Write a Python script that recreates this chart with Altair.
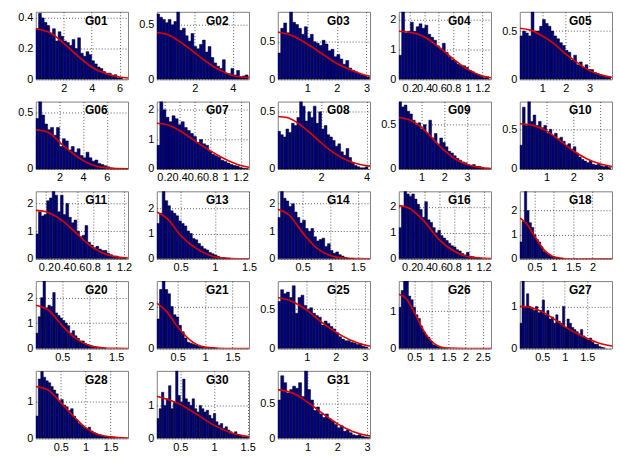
import altair as alt
import pandas as pd

panel_names = ["G01", "G02", "G03", "G04", "G05",
               "G06", "G07", "G08", "G09", "G10",
               "G11", "G13", "G14", "G16", "G18",
               "G20", "G21", "G25", "G26", "G27",
               "G28", "G30", "G31"]

x_min = [0, 0, 0, 0.05, 0.05,
         0, 0.1, 0.1, 0, 0,
         0.07, 0.15, 0.05, 0.06, 0.12,
         0.01, 0.12, 0, 0.05, 0,
         0, 0.15, 0]
x_max = [6.6, 4.85, 3.12, 1.32, 3.95,
         7.8, 1.31, 4.15, 4.05, 3.45,
         1.25, 1.5, 1.72, 1.3, 2.5,
         1.72, 1.8, 3.18, 2.74, 2.05,
         1.85, 1.52, 3.1]
y_max = [0.44, 0.62, 0.9, 2.25, 0.7,
         0.6, 2.28, 0.59, 0.76, 0.85,
         2.44, 2.67, 2.45, 2.6, 2.8,
         2.65, 3.2, 0.86, 1.8, 1.6,
         1.82, 2.05, 0.97]
bin_width = [0.2, 0.15, 0.1, 0.04, 0.12,
             0.25, 0.04, 0.12, 0.12, 0.1,
             0.035, 0.04, 0.05, 0.035, 0.06,
             0.045, 0.05, 0.1, 0.07, 0.05,
             0.05, 0.035, 0.1]
fine = [0.2, 0.4, 0.6, 0.8, 1, 1.2]
x_ticks = [[2, 4, 6], [2, 4], [1, 2, 3], fine, [1, 2, 3],
           [2, 4, 6], fine, [2, 4], [1, 2, 3], [1, 2, 3],
           fine, [0.5, 1, 1.5], [0.5, 1, 1.5], fine, [0.5, 1, 1.5, 2],
           [0.5, 1, 1.5], [0.5, 1, 1.5], [1, 2, 3], [0.5, 1, 1.5, 2, 2.5], [0.5, 1, 1.5],
           [0.5, 1, 1.5], [0.5, 1, 1.5], [1, 2, 3]]
y_ticks = [[0, 0.2, 0.4], [0, 0.5], [0, 0.5], [0, 1, 2], [0, 0.5],
           [0, 0.5], [0, 1, 2], [0, 0.5], [0, 0.5], [0, 0.5],
           [0, 1, 2], [0, 1, 2], [0, 1, 2], [0, 1, 2], [0, 1, 2],
           [0, 1, 2], [0, 2], [0, 0.5], [0, 1], [0, 1],
           [0, 1], [0, 1], [0, 0.5]]

# histogram heights
g01 = [0.33, 0.43, 0.40, 0.37, 0.35, 0.30, 0.33, 0.25, 0.31, 0.28, 0.25, 0.24, 0.22, 0.26, 0.20, 0.27,
       0.17, 0.15, 0.18, 0.16, 0.12, 0.10, 0.08, 0.07, 0.05, 0.04, 0.04, 0.02, 0.03, 0.01, 0.01]
g02 = [0.60, 0.57, 0.55, 0.52, 0.55, 0.50, 0.53, 0.62, 0.45, 0.47, 0.40, 0.35, 0.42, 0.30, 0.28, 0.32,
       0.36, 0.25, 0.30, 0.20, 0.15, 0.12, 0.10, 0.18, 0.05, 0.05, 0.10, 0.04, 0.08, 0.02, 0.03, 0.04]
g03 = [0.35, 0.68, 0.75, 0.62, 0.90, 0.76, 0.73, 0.68, 0.60, 0.70, 0.55, 0.60, 0.50, 0.48, 0.45, 0.52,
       0.47, 0.38, 0.40, 0.30, 0.33, 0.27, 0.20, 0.25, 0.15, 0.12, 0.10, 0.08, 0.06, 0.05, 0.03]
g04 = [0.80, 2.25, 1.55, 1.60, 1.90, 1.60, 1.75, 1.85, 1.70, 1.80, 1.50, 1.40, 1.30, 1.10, 1.00, 1.20,
       0.90, 0.75, 0.65, 0.60, 0.50, 0.45, 0.45, 0.40, 0.30, 0.25, 0.20, 0.15, 0.10, 0.05, 0.08]
g05 = [0.45, 0.50, 0.48, 0.45, 0.70, 0.50, 0.50, 0.55, 0.62, 0.58, 0.55, 0.50, 0.45, 0.42, 0.38, 0.35,
       0.30, 0.28, 0.20, 0.25, 0.15, 0.18, 0.12, 0.15, 0.10, 0.10, 0.07, 0.06, 0.05, 0.04, 0.03, 0.02]
g06 = [0.45, 0.60, 0.48, 0.40, 0.35, 0.37, 0.30, 0.37, 0.20, 0.27, 0.25, 0.17, 0.20, 0.15, 0.18, 0.12,
       0.10, 0.15, 0.10, 0.07, 0.08, 0.05, 0.04, 0.03, 0.02, 0.01]
g07 = [0.80, 2.28, 2.00, 1.75, 1.60, 1.80, 1.70, 1.50, 1.60, 1.40, 1.30, 1.20, 1.10, 0.90, 1.00, 0.85,
       0.80, 0.60, 0.50, 0.45, 0.40, 0.30, 0.25, 0.20, 0.15, 0.12, 0.10, 0.05, 0.03, 0.02]
g08 = [0.33, 0.30, 0.28, 0.35, 0.32, 0.40, 0.38, 0.45, 0.59, 0.55, 0.42, 0.50, 0.45, 0.55, 0.40, 0.50,
       0.35, 0.38, 0.30, 0.28, 0.25, 0.20, 0.22, 0.15, 0.12, 0.18, 0.10, 0.05, 0.03, 0.02, 0.01, 0.01, 0.02]
g09 = [0.76, 0.70, 0.72, 0.65, 0.62, 0.55, 0.50, 0.52, 0.45, 0.50, 0.40, 0.55, 0.35, 0.40, 0.28, 0.35,
       0.30, 0.25, 0.20, 0.18, 0.15, 0.12, 0.10, 0.08, 0.07, 0.05, 0.04, 0.05, 0.03, 0.03, 0.02, 0.01, 0.01]
g10 = [0.30, 0.78, 0.55, 0.85, 0.60, 0.68, 0.55, 0.60, 0.52, 0.55, 0.45, 0.50, 0.42, 0.45, 0.38, 0.40,
       0.35, 0.30, 0.32, 0.25, 0.28, 0.20, 0.15, 0.12, 0.10, 0.08, 0.10, 0.06, 0.05, 0.06, 0.04, 0.03, 0.04, 0.02]
g11 = [0.90, 1.70, 1.55, 1.60, 2.10, 2.20, 2.44, 2.30, 1.70, 2.30, 1.60, 2.00, 1.50, 1.30, 1.40, 1.00,
       0.80, 0.85, 1.20, 0.60, 0.50, 0.40, 0.45, 0.35, 0.30, 0.30, 0.20, 0.15, 0.10, 0.10, 0.05, 0.05, 0.03]
g13 = [1.40, 1.80, 2.67, 2.30, 2.10, 1.90, 1.80, 1.70, 1.50, 1.40, 1.30, 1.10, 1.00, 0.80, 0.75, 0.60,
       0.50, 0.40, 0.35, 0.25, 0.20, 0.15, 0.10, 0.05, 0.05, 0.03, 0.02]
g14 = [1.50, 2.45, 2.20, 2.10, 1.90, 2.00, 1.70, 1.50, 1.30, 1.40, 1.10, 1.00, 1.10, 0.80, 0.65, 0.70,
       0.75, 0.45, 0.55, 0.30, 0.20, 0.25, 0.15, 0.10, 0.05, 0.03, 0.02, 0.01]
g16 = [1.20, 2.00, 2.60, 2.50, 2.40, 2.50, 2.30, 2.10, 1.90, 1.60, 2.20, 1.50, 1.40, 1.20, 1.00, 1.10,
       0.90, 0.80, 0.70, 0.60, 0.50, 0.45, 0.35, 0.30, 0.20, 0.15, 0.25, 0.10, 0.08, 0.05, 0.03, 0.02]
g18 = [0.70, 1.55, 2.80, 2.00, 1.50, 1.30, 1.00, 0.80, 0.70, 0.50, 0.30, 0.25, 0.20, 0.10, 0.08, 0.05,
       0.03, 0.02, 0.01]
g20 = [0.60, 1.25, 2.00, 2.65, 1.60, 1.70, 1.65, 2.20, 1.40, 1.30, 1.20, 1.10, 1.00, 0.90, 0.60, 0.70,
       0.50, 0.40, 0.30, 0.30, 0.20, 0.15, 0.12, 0.10, 0.08, 0.05, 0.05, 0.03, 0.02]
g21 = [1.40, 2.80, 3.20, 2.80, 2.60, 2.00, 1.60, 1.50, 1.10, 0.80, 0.50, 0.30, 0.25, 0.20, 0.15, 0.10,
       0.08, 0.05, 0.03, 0.02, 0.05, 0.01]
g25 = [0.60, 0.75, 0.70, 0.72, 0.65, 0.80, 0.45, 0.65, 0.68, 0.55, 0.50, 0.52, 0.45, 0.42, 0.40, 0.30,
       0.35, 0.32, 0.28, 0.25, 0.20, 0.15, 0.12, 0.10, 0.10, 0.08, 0.07, 0.05, 0.06, 0.03, 0.02]
g26 = [1.10, 1.55, 1.80, 1.80, 1.40, 1.30, 1.10, 0.90, 0.80, 0.60, 0.45, 0.35, 0.30, 0.20, 0.10, 0.08,
       0.05, 0.03, 0.02, 0.01]
g27 = [0.60, 1.60, 1.00, 1.30, 1.00, 0.95, 0.90, 1.00, 0.85, 0.90, 1.15, 0.80, 0.90, 0.70, 0.75, 0.60,
       0.80, 0.65, 0.60, 1.00, 0.50, 0.70, 0.60, 0.50, 0.45, 0.40, 0.35, 0.45, 0.30, 0.25, 0.20, 0.25,
       0.15, 0.10, 0.10, 0.05, 0.03, 0.02]
g28 = [0.60, 1.60, 1.80, 1.65, 1.55, 1.50, 1.40, 1.30, 1.20, 1.00, 1.05, 0.90, 0.85, 0.75, 0.80, 0.60,
       0.50, 0.40, 0.35, 0.30, 0.25, 0.30, 0.20, 0.15, 0.12, 0.10, 0.08, 0.05, 0.04, 0.03, 0.02, 0.01]
g30 = [0.60, 0.90, 1.40, 1.00, 1.20, 1.60, 0.90, 1.10, 2.05, 1.30, 1.10, 1.80, 1.20, 1.10, 1.00, 1.20,
       0.90, 0.80, 1.00, 0.90, 0.80, 0.85, 0.70, 0.60, 0.75, 0.50, 0.40, 0.45, 0.30, 0.35, 0.25, 0.20,
       0.15, 0.20, 0.10, 0.10, 0.05, 0.05, 0.03]
g31 = [0.55, 0.90, 0.80, 0.65, 0.70, 0.75, 0.72, 0.80, 0.60, 0.97, 0.70, 0.55, 0.40, 0.45, 0.35, 0.30,
       0.35, 0.28, 0.25, 0.20, 0.15, 0.18, 0.10, 0.12, 0.08, 0.05, 0.04, 0.05, 0.03, 0.02, 0.01]

# fitted curves, points (x, density)
g01_fit = [(0, 0.33), (1, 0.305), (2, 0.235), (3, 0.153), (4, 0.08), (5, 0.037), (6, 0.015), (6.6, 0.008)]
g02_fit = [(0, 0.43), (0.5, 0.415), (1, 0.37), (1.5, 0.31), (2, 0.245), (2.5, 0.175), (3, 0.115),
           (3.5, 0.07), (4, 0.035), (4.85, 0.015)]
g03_fit = [(0, 0.63), (0.5, 0.58), (1, 0.47), (1.5, 0.34), (2, 0.21), (2.5, 0.12), (3, 0.05), (3.12, 0.04)]
g04_fit = [(0.05, 1.6), (0.2, 1.57), (0.4, 1.42), (0.6, 1.08), (0.8, 0.68), (1.0, 0.33), (1.2, 0.11), (1.32, 0.05)]
g05_fit = [(0.05, 0.53), (0.5, 0.51), (1, 0.45), (1.5, 0.37), (2, 0.26), (2.5, 0.17), (3, 0.09),
           (3.5, 0.045), (3.95, 0.02)]
g06_fit = [(0, 0.35), (1, 0.33), (2, 0.24), (3, 0.15), (4, 0.075), (5, 0.03), (6, 0.01), (7, 0.004), (7.8, 0.002)]
g07_fit = [(0.1, 1.55), (0.2, 1.52), (0.4, 1.3), (0.6, 0.95), (0.8, 0.62), (1.0, 0.33), (1.2, 0.12), (1.31, 0.06)]
g08_fit = [(0.1, 0.46), (0.5, 0.45), (1, 0.4), (1.5, 0.32), (2, 0.23), (2.5, 0.15), (3, 0.09),
           (3.5, 0.05), (4.15, 0.025)]
g09_fit = [(0, 0.58), (0.5, 0.55), (1, 0.47), (1.5, 0.34), (2, 0.21), (2.5, 0.11), (3, 0.05),
           (3.5, 0.02), (4.05, 0.005)]
g10_fit = [(0, 0.57), (0.5, 0.55), (1, 0.48), (1.5, 0.36), (2, 0.23), (2.5, 0.13), (3, 0.065), (3.45, 0.03)]
g11_fit = [(0.07, 1.75), (0.2, 1.7), (0.4, 1.4), (0.6, 0.9), (0.8, 0.4), (1.0, 0.13), (1.25, 0.03)]
g13_fit = [(0.15, 1.85), (0.3, 1.6), (0.5, 0.92), (0.75, 0.37), (1.0, 0.08), (1.25, 0.01), (1.5, 0.0)]
g14_fit = [(0.05, 1.8), (0.25, 1.6), (0.5, 0.95), (0.75, 0.4), (1.0, 0.12), (1.25, 0.03), (1.5, 0.005), (1.72, 0.0)]
g16_fit = [(0.06, 2.05), (0.2, 1.95), (0.4, 1.45), (0.6, 0.75), (0.8, 0.3), (1.0, 0.08), (1.3, 0.01)]
g18_fit = [(0.12, 1.7), (0.3, 1.45), (0.5, 0.94), (0.75, 0.36), (1.0, 0.08), (1.25, 0.01), (1.5, 0.0), (2.5, 0.0)]
g20_fit = [(0.01, 1.7), (0.25, 1.5), (0.5, 0.9), (0.75, 0.4), (1.0, 0.12), (1.25, 0.03), (1.5, 0.005), (1.72, 0.0)]
g21_fit = [(0.12, 2.15), (0.3, 1.75), (0.5, 1.03), (0.75, 0.35), (1.0, 0.07), (1.25, 0.01), (1.5, 0.0), (1.8, 0.0)]
g25_fit = [(0, 0.65), (0.5, 0.6), (1, 0.49), (1.5, 0.34), (2, 0.21), (2.5, 0.11), (3, 0.045), (3.18, 0.03)]
g26_fit = [(0.05, 1.45), (0.25, 1.35), (0.5, 0.98), (0.75, 0.52), (1.0, 0.2), (1.25, 0.05), (1.5, 0.01),
           (2.0, 0.0), (2.74, 0.0)]
g27_fit = [(0, 1.0), (0.25, 0.97), (0.5, 0.87), (0.75, 0.71), (1.0, 0.52), (1.25, 0.37), (1.5, 0.24),
           (1.75, 0.13), (2.05, 0.06)]
g28_fit = [(0, 1.4), (0.25, 1.3), (0.5, 0.97), (0.75, 0.6), (1.0, 0.29), (1.25, 0.1), (1.5, 0.04), (1.85, 0.005)]
g30_fit = [(0.15, 1.28), (0.5, 1.03), (0.75, 0.72), (1.0, 0.4), (1.25, 0.17), (1.52, 0.05)]
g31_fit = [(0, 0.7), (0.5, 0.65), (1, 0.52), (1.5, 0.36), (2, 0.21), (2.5, 0.1), (3, 0.04), (3.1, 0.035)]

bars = [g01, g02, g03, g04, g05, g06, g07, g08, g09, g10, g11, g13, g14, g16, g18,
        g20, g21, g25, g26, g27, g28, g30, g31]
fits = [g01_fit, g02_fit, g03_fit, g04_fit, g05_fit, g06_fit, g07_fit, g08_fit, g09_fit, g10_fit,
        g11_fit, g13_fit, g14_fit, g16_fit, g18_fit, g20_fit, g21_fit, g25_fit, g26_fit, g27_fit,
        g28_fit, g30_fit, g31_fit]

W, H = 93, 68
FONT = "Liberation Sans"

panels = []
for i, name in enumerate(panel_names):
    hist = pd.DataFrame({
        "x": [x_min[i] + k * bin_width[i] for k in range(len(bars[i]))],
        "h": bars[i],
    })
    hist["x2"] = hist["x"] + bin_width[i]
    fit = pd.DataFrame(fits[i], columns=["fx", "fy"])

    xs = alt.Scale(domain=[x_min[i], x_max[i]], nice=False, zero=False)
    ys = alt.Scale(domain=[0, y_max[i]], nice=False, zero=True)
    xa = alt.Axis(values=x_ticks[i], title=None, grid=True, labelOverlap=False,
                  labelFlush=False, labelBound=False, format="~g")
    ya = alt.Axis(values=y_ticks[i], title=None, grid=True, labelOverlap=False,
                  labelFlush=False, labelBound=False, format="~g")

    hb = alt.Chart(hist).mark_bar(
        clip=True, fill="#000085", stroke="#000000", strokeWidth=0.5
    ).encode(
        x=alt.X("x:Q", scale=xs, axis=xa),
        x2="x2:Q",
        y=alt.Y("h:Q", scale=ys, axis=ya),
        y2=alt.datum(0),
    )
    ln = alt.Chart(fit).mark_line(
        clip=True, color="#e00000", strokeWidth=1.6, interpolate="monotone"
    ).encode(
        x=alt.X("fx:Q", scale=xs, axis=xa),
        y=alt.Y("fy:Q", scale=ys, axis=ya),
    )
    tx = alt.Chart(pd.DataFrame({"t": [name]})).mark_text(
        font=FONT, fontSize=12, fontWeight="bold", color="black", align="center", baseline="middle"
    ).encode(x=alt.value(61), y=alt.value(9), text="t:N")

    panels.append(alt.layer(hb, ln, tx).properties(width=W, height=H))

chart = alt.concat(
    *panels, columns=5, spacing=alt.RowColnumber(row=22.5, column=29), bounds="flush"
).properties(
    padding={"left": 9, "top": 1, "right": 0, "bottom": 0},
    background="white",
).configure_view(
    stroke="#808080", strokeWidth=1
).configure_axis(
    domain=False, ticks=False, labelFont=FONT, labelFontSize=11, labelColor="black",
    labelPadding=3, labelOverlap=False, gridColor="#333333", gridDash=[1, 2],
    gridOpacity=0.8, gridWidth=1,
)

chart.save("out.html", embed_options={"renderer": "svg", "actions": False})
